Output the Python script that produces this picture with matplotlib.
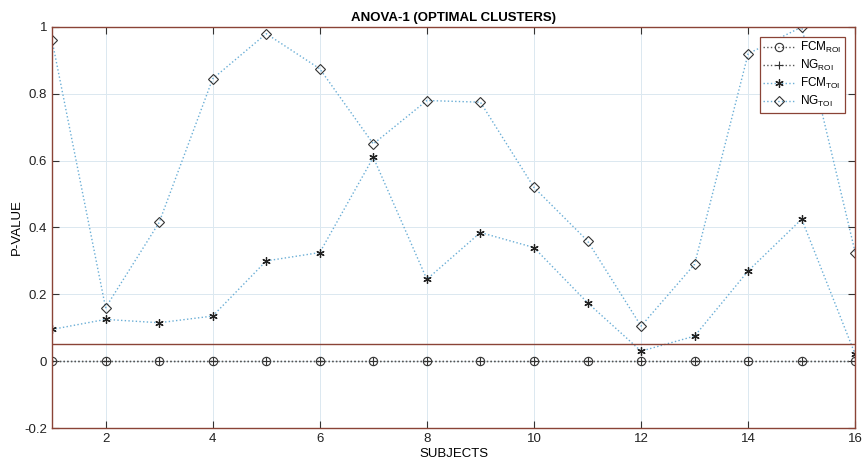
import numpy as np
import matplotlib
matplotlib.use("Agg")
import matplotlib.pyplot as plt

# subjects 1..16
subjects = np.arange(1, 17)

fcm_roi = [0, 0, 0, 0, 0, 0, 0, 0, 0, 0, 0, 0, 0, 0, 0, 0]
ng_roi = [0, 0, 0, 0, 0, 0, 0, 0, 0, 0, 0, 0, 0, 0, 0, 0]
fcm_toi = [0.095, 0.125, 0.115, 0.135, 0.30, 0.325, 0.61, 0.245,
           0.385, 0.34, 0.175, 0.03, 0.075, 0.27, 0.425, 0.02]
ng_toi = [0.96, 0.16, 0.415, 0.845, 0.98, 0.875, 0.65, 0.78,
          0.775, 0.52, 0.36, 0.105, 0.29, 0.92, 1.0, 0.325]
threshold = 0.05

axis_col = '#8a4336'
line_blue = '#6aaed6'
asterisk = (6, 2, 0)

plt.rcParams['font.family'] = ['Liberation Sans', 'DejaVu Sans']

fig = plt.figure(figsize=(8.63, 4.67), dpi=100)
ax = fig.add_axes([0.0603, 0.0835, 0.9307, 0.8587])

ax.plot(subjects, fcm_roi, linestyle=':', color='#555555', lw=1.0,
        marker='o', mfc='none', mec='#333333', ms=6, mew=0.8,
        label=r'FCM$_{\mathregular{ROI}}$')
ax.plot(subjects, ng_roi, linestyle=':', color='#555555', lw=1.0,
        marker='+', mec='#333333', ms=6, mew=0.8,
        label=r'NG$_{\mathregular{ROI}}$')
ax.plot(subjects, fcm_toi, linestyle=':', color=line_blue, lw=1.0,
        marker=asterisk, mfc='#222222', mec='#222222', ms=6, mew=0.9,
        label=r'FCM$_{\mathregular{TOI}}$')
ax.plot(subjects, ng_toi, linestyle=':', color=line_blue, lw=1.0,
        marker='D', mfc='none', mec='#333333', ms=5, mew=0.8,
        label=r'NG$_{\mathregular{TOI}}$')
ax.axhline(threshold, color=axis_col, lw=1.0)

ax.set_xlim(1, 16)
ax.set_ylim(-0.2, 1.0)
ax.set_xticks(np.arange(2, 17, 2))
ax.set_yticks([-0.2, 0, 0.2, 0.4, 0.6, 0.8, 1])
ax.set_yticklabels(['-0.2', '0', '0.2', '0.4', '0.6', '0.8', '1'])
ax.grid(True, color='#dbe8f0', lw=0.7)
ax.set_axisbelow(True)
ax.tick_params(direction='in', top=True, right=True, length=5,
               color='#333333', labelsize=9.5, labelcolor='#222222')
for s in ax.spines.values():
    s.set_color(axis_col)
    s.set_linewidth(1.0)

ax.set_title('ANOVA-1 (OPTIMAL CLUSTERS)', fontsize=9.5, fontweight='bold', pad=4)
ax.set_xlabel('SUBJECTS', fontsize=9.5, labelpad=2)
ax.set_ylabel('P-VALUE', fontsize=9.5, labelpad=1)

leg = ax.legend(loc='upper right', bbox_to_anchor=(0.99, 0.982), fontsize=8.5,
                frameon=True, fancybox=False, handlelength=2.6,
                borderpad=0.3, labelspacing=0.25, handletextpad=0.5,
                borderaxespad=0.2)
leg.get_frame().set_edgecolor(axis_col)
leg.get_frame().set_linewidth(0.9)
leg.get_frame().set_alpha(1)

fig.savefig('out.png', dpi=100)
